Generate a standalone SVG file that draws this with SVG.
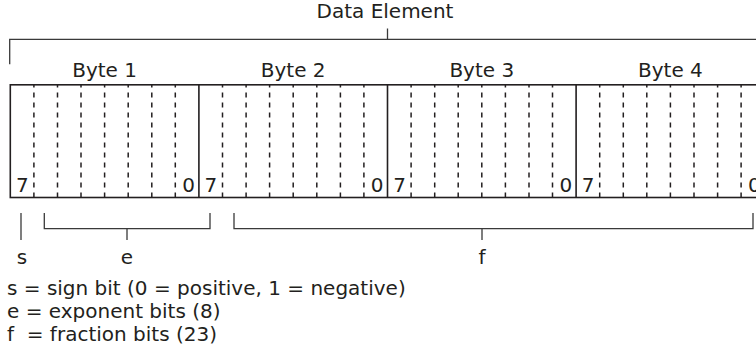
<svg xmlns="http://www.w3.org/2000/svg" width="756" height="356" viewBox="0 0 756 356">
<style>
text{font-family:"DejaVu Sans","Liberation Sans",sans-serif;font-size:20px;fill:#231f20}
.mid{text-anchor:middle}
.end{text-anchor:end}
.box{fill:none;stroke:#231f20;stroke-width:1.6}
.div{stroke:#231f20;stroke-width:1.6}
.bit{stroke:#231f20;stroke-width:1.5;stroke-dasharray:5 5}
.br{fill:none;stroke:#3a3a3a;stroke-width:1.3}
</style>
<rect width="756" height="356" fill="#ffffff"/>
<g id="data-element">
<text class="mid" x="385" y="18">Data Element</text>
</g>
<g id="byte1">
<text class="mid" x="104.6" y="77">Byte 1</text>
<path class="bit" d="M33.9 197.5V85M57.5 197.5V85M81 197.5V85M104.6 197.5V85M128.2 197.5V85M151.8 197.5V85M175.3 197.5V85"/>
<text x="16" y="192">7</text><text class="end" x="195" y="192">0</text>
</g>
<g id="byte2">
<text class="mid" x="293.2" y="77">Byte 2</text>
<path class="bit" d="M222.5 197.5V85M246.1 197.5V85M269.6 197.5V85M293.2 197.5V85M316.8 197.5V85M340.4 197.5V85M363.9 197.5V85"/>
<text x="204.6" y="192">7</text><text class="end" x="383.6" y="192">0</text>
</g>
<g id="byte3">
<text class="mid" x="481.8" y="77">Byte 3</text>
<path class="bit" d="M411.1 197.5V85M434.7 197.5V85M458.2 197.5V85M481.8 197.5V85M505.4 197.5V85M529 197.5V85M552.5 197.5V85"/>
<text x="393.2" y="192">7</text><text class="end" x="572.2" y="192">0</text>
</g>
<g id="byte4">
<text class="mid" x="670.4" y="77">Byte 4</text>
<path class="bit" d="M599.7 197.5V85M623.3 197.5V85M646.8 197.5V85M670.4 197.5V85M694 197.5V85M717.6 197.5V85M741.1 197.5V85"/>
<text x="581.8" y="192">7</text><text class="end" x="760.8" y="192">0</text>
</g>
<g id="frame">
<rect class="box" x="10.3" y="84.8" width="754.4" height="112.7"/>
<path class="div" d="M198.9 84.8V197.5M387.5 84.8V197.5M576.1 84.8V197.5"/>
</g>
<g id="connectors">
<path class="br" d="M9.7 64.3V39.3H757M387.5 39.3V28.5"/>
<path class="br" d="M21 213V240"/>
<path class="br" d="M44.3 213V228.7H210V213M127 228.7V240"/>
<path class="br" d="M234 213V228.7H753V213M482 228.7V240"/>
</g>
<g id="sign"><text class="mid" x="22" y="264">s</text></g>
<g id="exponent"><text class="mid" x="127" y="264">e</text></g>
<g id="fraction"><text class="mid" x="482" y="264">f</text></g>
<g id="legend">
<text x="7" y="295">s = sign bit (0 = positive, 1 = negative)</text>
<text x="7" y="318">e = exponent bits (8)</text>
<text x="7" y="341">f &#160;= fraction bits (23)</text>
</g>
</svg>
